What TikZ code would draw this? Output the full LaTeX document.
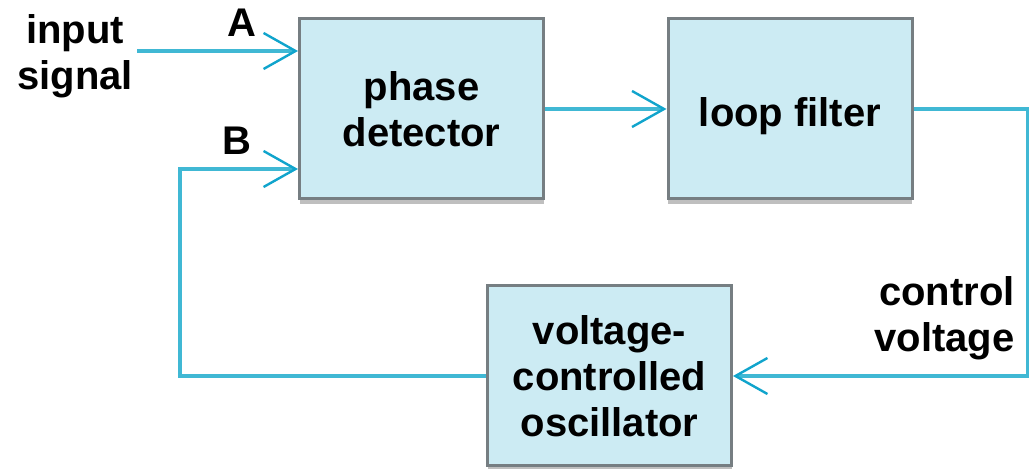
\documentclass[tikz,border=0pt]{standalone}
\usepackage{fontspec}
\setmainfont{Liberation Sans}
\usetikzlibrary{arrows.meta}
\definecolor{sigcyan}{RGB}{64,184,212}
\definecolor{tipcyan}{RGB}{16,164,204}
\definecolor{boxfill}{RGB}{204,235,243}
\definecolor{boxline}{RGB}{118,126,130}
\newcommand\pllfont{\bfseries\fontsize{20}{23}\selectfont}

\begin{document}
\begin{tikzpicture}[
    x=0.5pt, y=-0.5pt,
    block/.style={
        draw=boxline,
        line width=1.5pt,
        fill=boxfill,
        minimum width=122pt,
        minimum height=90pt,
        inner sep=0pt,
        font=\pllfont,
        align=center,
        preaction={fill=black!25, transform canvas={yshift=-2.5pt}}
    },
    sig/.style={
        -{Straight Barb[length=16pt, width=18pt, line width=1.2pt, color=tipcyan]},
        sigcyan,
        line width=2pt
    },
    tag/.style={
        font=\pllfont,
        align=center,
        inner sep=0pt
    }
]
\useasboundingbox (0,0) rectangle (1029,469);

\node[block] (pd) at (421.5,109) {phase\\detector};
\node[block, text height=22pt] (lf) at (790,109) {loop filter};
\node[block] (vco) at (609.5,376) {voltage-\\controlled\\oscillator};

\node[tag] (insig) at (75,56) {input\\signal};
\node[tag] (labA) at (242,23) {A};
\node[tag] (labB) at (237,141) {B};
\node[tag, align=right, anchor=east] (ctrl) at (1015,318) {control\\voltage};

\coordinate (inA) at (137,51);
\coordinate (bturn) at (180,169);
\coordinate (rturn) at (1028,376);

\draw[sig] (inA) -- (inA -| pd.west);
\draw[sig] (pd.east) -- (lf.west);
\draw[sig] (lf.east) -| (rturn) -- (vco.east);
\draw[sig] (vco.west) -| (bturn) -- (bturn -| pd.west);

\end{tikzpicture}
\end{document}
